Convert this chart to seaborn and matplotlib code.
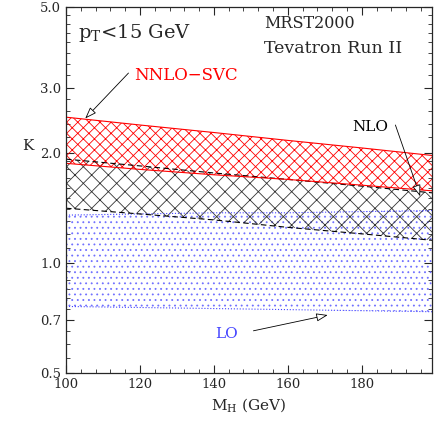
import numpy as np
import pandas as pd
import matplotlib
matplotlib.use("Agg")
import matplotlib.pyplot as plt
import seaborn as sns
from matplotlib.ticker import FixedLocator, NullFormatter

# Higgs mass grid and K-factor bands
mh = [100, 120, 140, 160, 180, 200]
nnlo_hi = [2.50, 2.38, 2.27, 2.16, 2.06, 1.96]
nnlo_lo = [1.87, 1.80, 1.74, 1.69, 1.63, 1.57]
nlo_hi = [1.92, 1.84, 1.76, 1.69, 1.62, 1.55]
nlo_lo = [1.41, 1.36, 1.31, 1.25, 1.20, 1.15]
lo_hi = [1.35, 1.36, 1.37, 1.37, 1.38, 1.39]
lo_lo = [0.760, 0.755, 0.750, 0.745, 0.740, 0.735]

y_major = [0.5, 0.7, 1.0, 2.0, 3.0, 5.0]
y_minor = [0.55, 0.6, 0.65, 0.75, 0.8, 0.85, 0.9, 0.95,
           1.1, 1.2, 1.3, 1.4, 1.5, 1.6, 1.7, 1.8, 1.9,
           2.2, 2.4, 2.6, 2.8, 3.25, 3.5, 3.75, 4.0, 4.25, 4.5, 4.75]
x_major = [100, 120, 140, 160, 180]
x_minor = list(range(104, 200, 4))

sns.set_style("ticks")
plt.rcParams["font.family"] = ["DejaVu Serif"]
plt.rcParams["mathtext.fontset"] = "dejavuserif"
plt.rcParams["hatch.linewidth"] = 0.6

fig = plt.figure(figsize=(4.36, 4.23), dpi=100)
ax = fig.add_axes([66 / 436, 1 - 373 / 423, 366 / 436, 366 / 423])

df = pd.DataFrame({"mh": mh, "nnlo_hi": nnlo_hi, "nnlo_lo": nnlo_lo,
                   "nlo_hi": nlo_hi, "nlo_lo": nlo_lo,
                   "lo_hi": lo_hi, "lo_lo": lo_lo})

# LO band: blue dots
ax.fill_between(df["mh"], df["lo_lo"], df["lo_hi"], facecolor="none",
                edgecolor="#7070ff", hatch="...", linewidth=0)
# NLO band: dark cross hatch
ax.fill_between(df["mh"], df["nlo_lo"], df["nlo_hi"], facecolor="none",
                edgecolor="0.2", hatch="xx", linewidth=0)
# NNLO-SVC band: red cross hatch
ax.fill_between(df["mh"], df["nnlo_lo"], df["nnlo_hi"], facecolor="none",
                edgecolor="red", hatch="xxx", linewidth=0)

for col, c, ls in [("lo_hi", "#4444ff", ":"), ("lo_lo", "#4444ff", ":"),
                   ("nlo_hi", "black", (0, (5, 3))), ("nlo_lo", "black", (0, (5, 3))),
                   ("nnlo_hi", "red", "-"), ("nnlo_lo", "red", "-")]:
    sns.lineplot(data=df, x="mh", y=col, ax=ax, color=c, linestyle=ls, linewidth=0.8)

ax.set_yscale("log")
ax.set_xlim(100, 199)
ax.set_ylim(0.5, 5.0)
ax.yaxis.set_major_locator(FixedLocator(y_major))
ax.yaxis.set_minor_locator(FixedLocator(y_minor))
ax.yaxis.set_minor_formatter(NullFormatter())
ax.set_yticklabels([f"{v:.1f}" for v in y_major])
ax.xaxis.set_major_locator(FixedLocator(x_major))
ax.xaxis.set_minor_locator(FixedLocator(x_minor))
ax.tick_params(which="both", direction="in", top=True, right=True, labelsize=9.5)
ax.tick_params(which="major", length=6, width=0.8)
ax.tick_params(which="minor", length=3, width=0.6)
for s in ax.spines.values():
    s.set_linewidth(0.9)

ax.set_xlabel(r"M$_\mathrm{H}$ (GeV)", fontsize=11)
ax.set_ylabel("K", fontsize=11, rotation=0)
ax.yaxis.set_label_coords(-0.104, 0.60)

ax.text(0.033, 0.915, r"p$_\mathrm{T}$<15 GeV", transform=ax.transAxes,
        fontsize=14, va="baseline")
ax.text(0.541, 0.943, "MRST2000", transform=ax.transAxes, fontsize=11.5, va="baseline")
ax.text(0.541, 0.874, "Tevatron Run II", transform=ax.transAxes, fontsize=12.5, va="baseline")

arrow = dict(arrowstyle="-|>,head_length=0.7,head_width=0.25",
             fc="white", ec="black", lw=0.6, shrinkA=0, shrinkB=0)
ax.annotate("", xy=(105.2, 2.48), xytext=(116.9, 3.30), arrowprops=arrow)
ax.text(118.3, 3.16, "NNLO\u2212SVC", color="red", fontsize=12, va="baseline")
ax.annotate("", xy=(195.8, 1.52), xytext=(189.1, 2.38), arrowprops=arrow)
ax.text(177.5, 2.29, "NLO", color="black", fontsize=11, va="baseline")
ax.annotate("", xy=(170.8, 0.72), xytext=(150.7, 0.652), arrowprops=arrow)
ax.text(140.3, 0.623, "LO", color="#4444ff", fontsize=11, va="baseline")

fig.savefig("out.png", dpi=100)
